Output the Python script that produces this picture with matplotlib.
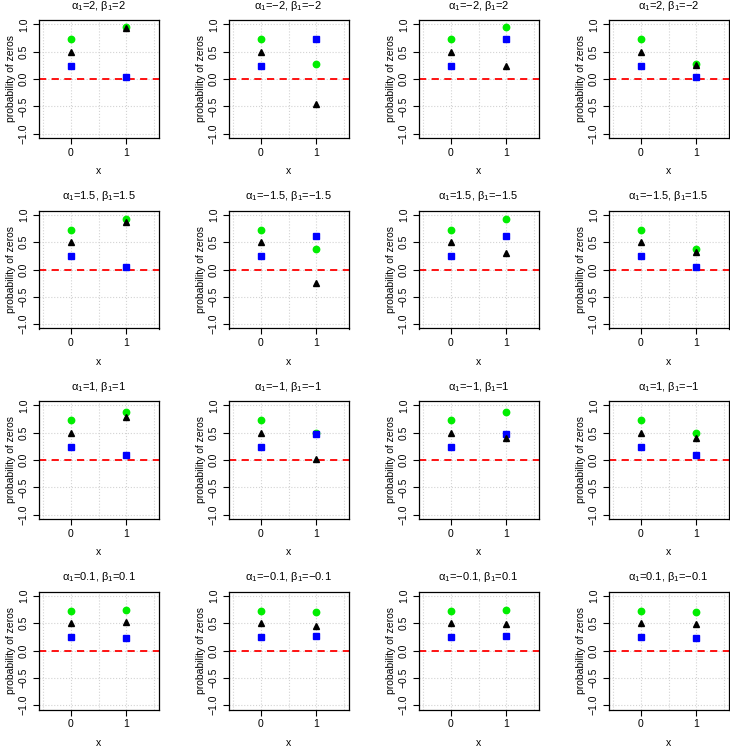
import matplotlib
matplotlib.use('Agg')
import matplotlib.pyplot as plt

plt.rcParams['font.family'] = ['Liberation Sans', 'DejaVu Sans']
plt.rcParams['mathtext.fontset'] = 'custom'
plt.rcParams['mathtext.rm'] = 'Liberation Sans'
plt.rcParams['mathtext.it'] = 'Liberation Sans'

# panel parameters (alpha1, beta1), row by row
alphas = ['2', '\u22122', '\u22122', '2',
          '1.5', '\u22121.5', '1.5', '\u22121.5',
          '1', '\u22121', '\u22121', '1',
          '0.1', '\u22120.1', '\u22120.1', '0.1']
betas = ['2', '\u22122', '2', '\u22122',
         '1.5', '\u22121.5', '\u22121.5', '1.5',
         '1', '\u22121', '1', '\u22121',
         '0.1', '\u22120.1', '0.1', '\u22120.1']

xs = [0, 1]
# values at x=0 and x=1 for each panel
green = [[0.73, 0.95], [0.73, 0.27], [0.73, 0.95], [0.73, 0.27],
         [0.73, 0.92], [0.73, 0.37], [0.73, 0.92], [0.73, 0.37],
         [0.73, 0.88], [0.73, 0.50], [0.73, 0.88], [0.73, 0.50],
         [0.73, 0.75], [0.73, 0.71], [0.73, 0.75], [0.73, 0.71]]
black = [[0.50, 0.93], [0.50, -0.45], [0.50, 0.23], [0.50, 0.25],
         [0.50, 0.87], [0.50, -0.24], [0.50, 0.31], [0.50, 0.32],
         [0.50, 0.79], [0.50, 0.02], [0.50, 0.40], [0.50, 0.41],
         [0.50, 0.53], [0.50, 0.45], [0.50, 0.49], [0.50, 0.49]]
blue = [[0.24, 0.03], [0.24, 0.73], [0.24, 0.73], [0.24, 0.03],
        [0.24, 0.05], [0.24, 0.61], [0.24, 0.61], [0.24, 0.05],
        [0.24, 0.09], [0.24, 0.48], [0.24, 0.48], [0.24, 0.09],
        [0.24, 0.22], [0.24, 0.26], [0.24, 0.26], [0.24, 0.22]]

yticks = [-1.0, -0.5, 0.0, 0.5, 1.0]
ylabels = ['\u22121.0', '\u22120.5', '0.0', '0.5', '1.0']

W, H = 730, 750
fig = plt.figure(figsize=(W / 100, H / 100), dpi=100)

for i in range(16):
    r, c = divmod(i, 4)
    left = 38.5 + 190 * c
    top = 20 + 190.5 * r
    ax = fig.add_axes([left / W, 1 - (top + 118) / H, 120 / W, 118 / H])
    ax.set_xlim(-0.58, 1.58)
    ax.set_ylim(-1.08, 1.08)
    for x in [-0.5, 0, 0.5, 1, 1.5]:
        ax.axvline(x, color='lightgray', ls=':', lw=0.8, zorder=0)
    for y in yticks:
        ax.axhline(y, color='lightgray', ls=':', lw=0.8, zorder=0)
    ax.axhline(0, color='red', ls=(0, (4, 3)), lw=1.3, zorder=1)
    ax.plot(xs, green[i], 'o', color='#00ee00', ms=4.6, zorder=3)
    ax.plot(xs, black[i], '^', color='black', ms=4.3, zorder=4)
    ax.plot(xs, blue[i], 's', color='blue', ms=3.8, zorder=3)
    ax.set_xticks([0, 1])
    ax.set_xticklabels(['0', '1'], fontsize=7.5)
    ax.set_yticks(yticks)
    ax.set_yticklabels(ylabels, fontsize=7.5, rotation=90, va='center')
    ax.tick_params(length=4, width=0.8, pad=3)
    for s in ax.spines.values():
        s.set_linewidth(0.9)
    ax.set_xlabel('x', fontsize=7.5, labelpad=6)
    ax.set_ylabel('probability of zeros', fontsize=7.5, labelpad=2)
    ax.set_title(r'$\alpha_1$=' + alphas[i] + r', $\beta_1$=' + betas[i],
                 fontsize=8, pad=8)

fig.savefig('out.png', dpi=100)
